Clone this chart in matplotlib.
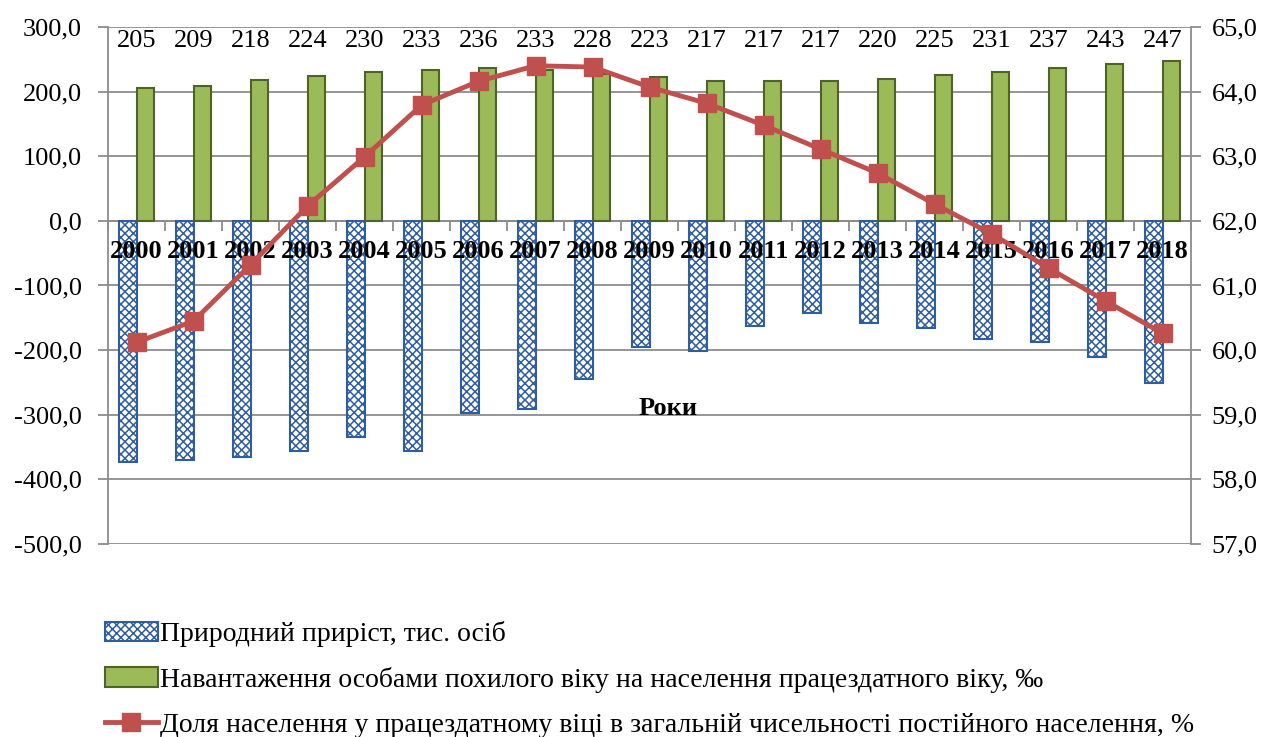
import matplotlib
matplotlib.use("Agg")
import matplotlib.pyplot as plt
import numpy as np

plt.rcParams['font.family'] = ['Liberation Serif', 'DejaVu Serif']
plt.rcParams['hatch.linewidth'] = 1.1

years = [str(y) for y in range(2000, 2019)]
natural_increase = [-373, -370, -365, -356, -334, -356, -298, -291, -244, -195,
                    -201, -162, -142, -158, -166, -183, -187, -210, -251]
elderly_load = [205, 209, 218, 224, 230, 233, 236, 233, 228, 223,
                217, 217, 217, 220, 225, 231, 237, 243, 247]
working_share = [60.12, 60.45, 61.32, 62.23, 62.99, 63.79, 64.16, 64.40, 64.38, 64.07,
                 63.82, 63.48, 63.11, 62.74, 62.26, 61.80, 61.27, 60.76, 60.26]

label_nat = 'Природний приріст, тис. осіб'
label_load = 'Навантаження особами похилого віку на населення працездатного віку, ‰'
label_share = 'Доля населення у працездатному віці в загальній чисельності постійного населення, %'

FS = 19
fig = plt.figure(figsize=(12.83, 7.37), dpi=100)
ax = fig.add_axes([0.0842, 0.2619, 0.8441, 0.7015])
x = np.arange(len(years))
w = 0.3

ax.set_axisbelow(True)
ax.yaxis.grid(True, color='#8c8c8c', linewidth=1.3)
b1 = ax.bar(x - w / 2, natural_increase, w, facecolor='white', edgecolor='#2f5d9e',
            hatch='xxxx', linewidth=1.5, label=label_nat, zorder=3)
b2 = ax.bar(x + w / 2, elderly_load, w, facecolor='#9bbb59', edgecolor='#4f6228',
            linewidth=1.5, label=label_load, zorder=3)

for xi, v in zip(x, elderly_load):
    ax.text(xi, 278, f'{v}', ha='center', va='center', fontsize=FS, zorder=5)

ax.set_xlim(-0.5, len(years) - 0.5)
ax.set_ylim(-500, 300)
ax.set_yticks(np.arange(-500, 301, 100))
ax.set_yticklabels([f'{v:.1f}'.replace('.', ',') for v in np.arange(-500, 301, 100)],
                   fontsize=FS)
ax.spines['bottom'].set_position(('data', 0))
for side in ['bottom', 'left', 'right']:
    ax.spines[side].set_color('#8c8c8c')
    ax.spines[side].set_linewidth(1.3)
ax.spines['top'].set_visible(False)
ax.set_xticks(x)
ax.set_xticklabels(years, fontsize=FS, fontweight='bold')
ax.tick_params(axis='x', length=0, pad=14)
ax.set_xticks(np.arange(-0.5, len(years), 1), minor=True)
ax.tick_params(axis='x', which='minor', length=7, color='#8c8c8c', width=1.3, direction='out')
ax.tick_params(axis='y', length=7, width=1.3, color='#8c8c8c', pad=12)
ax.xaxis.set_zorder(4)
ax.text(0.517, 0.263, 'Роки', transform=ax.transAxes, ha='center', va='center',
        fontsize=FS, fontweight='bold')

ax2 = ax.twinx()
ax2.set_ylim(57, 65)
ax2.set_yticks(np.arange(57, 65.1, 1))
ax2.set_yticklabels([f'{v:.1f}'.replace('.', ',') for v in np.arange(57, 65.1, 1)],
                    fontsize=FS)
ax2.tick_params(axis='y', length=7, width=1.3, color='#8c8c8c', pad=8)
for s in ax2.spines.values():
    s.set_visible(False)
l1, = ax2.plot(x, working_share, color='#c0504d', linewidth=3.5, marker='s',
               markersize=13, label=label_share, zorder=4)

fig.legend(handles=[b1, b2, l1], labels=[label_nat, label_load, label_share],
           loc='upper left', bbox_to_anchor=(0.073, 0.172), frameon=False,
           fontsize=20, labelspacing=0.7, handlelength=1.9, handletextpad=0.1,
           borderaxespad=0)

fig.savefig('out.png', dpi=100)
